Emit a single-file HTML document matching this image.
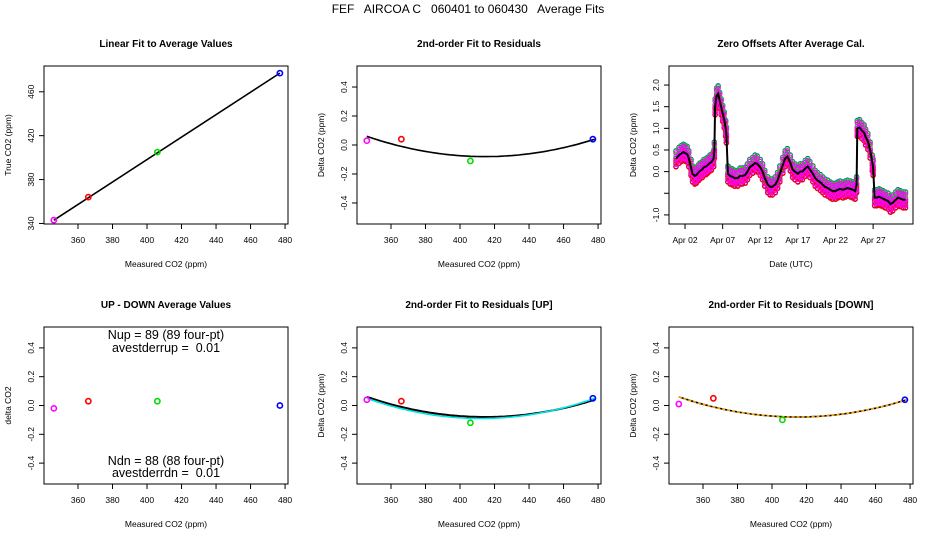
<!DOCTYPE html>
<html><head><meta charset="utf-8"><style>
body{margin:0;background:#fff}
svg{display:block;font-family:"Liberation Sans",sans-serif}
text{fill:#000;white-space:pre}
</style></head><body>
<svg id="c" width="936" height="540" viewBox="0 0 936 540" xmlns="http://www.w3.org/2000/svg">
<text x="468" y="13" text-anchor="middle" font-size="12" xml:space="preserve">FEF   AIRCOA C   060401 to 060430   Average Fits</text>
</svg>
<script>
// ---- data ----
const calMeasured = [346, 366, 406, 477];
const calTrue = [343, 364, 405, 477];
const calColors = ['#ff00ff', '#ff0000', '#00dd00', '#0000ff'];
const residuals = [0.03, 0.04, -0.11, 0.04];
const residualsUp = [0.04, 0.03, -0.12, 0.05];
const residualsDown = [0.01, 0.05, -0.10, 0.04];
const upDownDiff = [-0.02, 0.03, 0.03, 0.0];
const fitCoef = [0.06, -0.08, 0.04];      // fit value at 346, 415, 478
const fitCoefUp = [0.05, -0.09, 0.05];
const fitCoefDown = [0.06, -0.08, 0.04];
const co2Ticks = [360, 380, 400, 420, 440, 460, 480];
const trueTicks = [340, 380, 420, 460];
const residTicks = [-0.4, -0.2, 0.0, 0.2, 0.4];
const zeroTicks = [-1.0, -0.5, 0.0, 0.5, 1.0, 1.5, 2.0];
const zeroTickLabels = ['-1.0', '', '0.0', '0.5', '1.0', '1.5', '2.0'];
const dateTicks = [2, 7, 12, 17, 22, 27];
const dateTickLabels = ['Apr 02', 'Apr 07', 'Apr 12', 'Apr 17', 'Apr 22', 'Apr 27'];
const zeroDays = [0.8,1.2,1.5,1.8,2.0,2.3,2.5,2.8,3.0,3.3,3.5,3.8,4.0,4.3,4.5,4.8,5.0,5.3,5.5,5.8,5.9,6.0,6.2,6.4,6.6,6.8,7.0,7.2,7.4,7.5,7.7,8.0,8.3,8.6,9.0,9.3,9.6,10.0,10.3,10.6,11.0,11.3,11.6,12.0,12.3,12.6,13.0,13.3,13.6,14.0,14.3,14.6,15.0,15.3,15.6,16.0,16.3,16.6,17.0,17.3,17.6,18.0,18.3,18.6,19.0,19.3,19.6,20.0,20.3,20.6,21.0,21.3,21.6,22.0,22.3,22.6,23.0,23.3,23.6,24.0,24.3,24.6,24.8,24.9,25.2,25.5,25.8,26.0,26.3,26.6,26.9,27.0,27.2,27.5,27.8,28.0,28.3,28.6,29.0,29.3,29.6,30.0,30.3,30.6,31.0,31.3];
const zeroMean = [0.3,0.38,0.42,0.45,0.43,0.4,0.3,0.1,-0.05,-0.1,-0.08,-0.02,0.02,0.05,0.1,0.12,0.15,0.2,0.22,0.3,0.5,1.5,1.75,1.8,1.65,1.5,1.35,1.2,1.0,0.85,-0.05,-0.1,-0.12,-0.15,-0.15,-0.1,-0.1,-0.08,0.0,0.1,0.15,0.2,0.18,0.1,0.0,-0.15,-0.3,-0.35,-0.35,-0.3,-0.2,-0.05,0.15,0.3,0.35,0.2,0.05,0.0,-0.05,0.0,0.0,0.08,0.12,0.05,-0.05,-0.15,-0.2,-0.25,-0.3,-0.35,-0.38,-0.42,-0.45,-0.45,-0.42,-0.4,-0.42,-0.4,-0.38,-0.4,-0.42,-0.45,-0.3,1.0,1.02,0.95,0.9,0.8,0.7,0.5,0.2,0.1,-0.6,-0.6,-0.58,-0.6,-0.62,-0.65,-0.68,-0.75,-0.72,-0.65,-0.6,-0.62,-0.65,-0.65];
const seriesOffsets = [0.0, 0.05, -0.12, 0.0];   // blue, green, red, magenta
const seriesSpread = [0.18, 0.12, 0.07, 0.13];
const zeroColors = ['#0000ff', '#00dd00', '#ff0000', '#ff00ff'];

// ---- drawing ----
const svg = document.getElementById('c');
const NS = 'http://www.w3.org/2000/svg';
function el(tag, attrs, parent) {
  const e = document.createElementNS(NS, tag);
  for (const k in attrs) e.setAttribute(k, attrs[k]);
  (parent || svg).appendChild(e);
  return e;
}
function txt(x, y, s, size, parent, rot, anchor, bold) {
  const t = el('text', {x: x, y: y, 'font-size': size, 'text-anchor': anchor || 'middle'}, parent);
  if (rot) t.setAttribute('transform', 'rotate(-90 ' + x + ' ' + y + ')');
  if (bold) t.setAttribute('font-weight', 'bold');
  t.textContent = s;
  return t;
}
function scale(d0, d1, r0, r1) { return v => r0 + (v - d0) / (d1 - d0) * (r1 - r0); }

function panel(name, box, xd, yd, title, xlab, ylab, xt, xtl, yt, ytl) {
  const g = el('g', {});
  
  
  const [x0, y0, x1, y1] = box;
  const sx = scale(xd[0], xd[1], x0, x1), sy = scale(yd[0], yd[1], y1, y0);
  const frame = el('rect', {x: x0, y: y0, width: x1 - x0, height: y1 - y0, fill: 'none', stroke: '#000', 'stroke-width': 1}, g);
  
  
  const t = txt((x0 + x1) / 2, y0 - 19, title, 10, g, false, 'middle', true);
  
  
  const xl = txt((x0 + x1) / 2, y1 + 43, xlab, 8.5, g);
  
  
  const yl = txt(x0 - 33, (y0 + y1) / 2, ylab, 8.5, g, true);
  
  
  xt.forEach((v, i) => {
    const x = sx(v);
    el('line', {x1: x, x2: x, y1: y1, y2: y1 + 5, stroke: '#000'}, g);
    const l = txt(x, y1 + 19, xtl[i], 8.5, g);
    
    
  });
  yt.forEach((v, i) => {
    const y = sy(v);
    el('line', {x1: x0 - 5, x2: x0, y1: y, y2: y, stroke: '#000'}, g);
    const l = txt(x0 - 10, y, ytl[i], 8.5, g, true);
    
    
  });
  return {g, sx, sy};
}
function pt(p, x, y, c, name) {
  const e = el('circle', {cx: p.sx(x), cy: p.sy(y), r: 2.6, fill: 'none', stroke: c, 'stroke-width': 1.6}, p.g);
  
  
}
function quadCurve(p, coef, color, name, dash, w) {
  const xs = [346, 415, 478];
  const f = x => {
    let s = 0;
    for (let i = 0; i < 3; i++) {
      let l = 1;
      for (let j = 0; j < 3; j++) if (j !== i) l *= (x - xs[j]) / (xs[i] - xs[j]);
      s += coef[i] * l;
    }
    return s;
  };
  let d = '';
  for (let x = 346; x <= 478; x += 2) d += (d ? 'L' : 'M') + p.sx(x).toFixed(1) + ',' + p.sy(f(x)).toFixed(1);
  const e = el('path', {d: d, fill: 'none', stroke: color, 'stroke-width': w || 1.6}, p.g);
  if (dash) e.setAttribute('stroke-dasharray', dash);
  
  
}
const XD = [340.3, 481.7];
const co2Labels = co2Ticks.map(String);
const residLabels = residTicks.map(v => v.toFixed(1));

// Panel 1
const p1 = panel('linear-fit-panel', [44, 66, 288, 224], XD, [339.5, 483.5], 'Linear Fit to Average Values', 'Measured CO2 (ppm)', 'True CO2 (ppm)', co2Ticks, co2Labels, trueTicks, trueTicks.map(String));
{
  const l = el('line', {x1: p1.sx(calMeasured[0]), y1: p1.sy(calTrue[0]), x2: p1.sx(calMeasured[3]), y2: p1.sy(calTrue[3]), stroke: '#000', 'stroke-width': 1.6}, p1.g);
  
  
  calMeasured.forEach((m, i) => pt(p1, m, calTrue[i], calColors[i], 'calibration-point'));
}
// Panel 2
const RD = [-0.545, 0.545];
const p2 = panel('residual-fit-panel', [357, 66, 601, 224], XD, RD, '2nd-order Fit to Residuals', 'Measured CO2 (ppm)', 'Delta CO2 (ppm)', co2Ticks, co2Labels, residTicks, residLabels);
quadCurve(p2, fitCoef, '#000', 'residual-fit-curve');
calMeasured.forEach((m, i) => pt(p2, m, residuals[i], calColors[i], 'residual-point'));

// Panel 3
const p3 = panel('zero-offsets-panel', [669, 66, 913, 224], [-0.13, 32.3], [-1.21, 2.44], 'Zero Offsets After Average Cal.', 'Date (UTC)', 'Delta CO2 (ppm)', dateTicks, dateTickLabels, zeroTicks, zeroTickLabels);
zeroColors.forEach((c, k) => {
  const jit = [-1, 0, 1];
  zeroDays.forEach((d, i) => {
    jit.forEach(j => {
      const e = el('circle', {cx: p3.sx(d), cy: p3.sy(zeroMean[i] + seriesOffsets[k] + j * seriesSpread[k]), r: 2.2, fill: 'none', stroke: c, 'stroke-width': 1.1}, p3.g);
      
      
    });
  });
});
{
  const d = zeroDays.map((v, i) => (i ? 'L' : 'M') + p3.sx(v).toFixed(1) + ',' + p3.sy(zeroMean[i]).toFixed(1)).join('');
  const e = el('path', {d: d, fill: 'none', stroke: '#000', 'stroke-width': 2}, p3.g);
  
  
}

// Panel 4
const p4 = panel('up-down-panel', [44, 327, 288, 484], XD, RD, 'UP - DOWN Average Values', 'Measured CO2 (ppm)', 'delta CO2', co2Ticks, co2Labels, residTicks, residLabels);
calMeasured.forEach((m, i) => pt(p4, m, upDownDiff[i], calColors[i], 'up-down-point'));
[['Nup = 89 (89 four-pt)', 339], ['avestderrup =  0.01', 352], ['Ndn = 88 (88 four-pt)', 465], ['avestderrdn =  0.01', 477]].forEach(a => {
  const t = txt(166, a[1], a[0], 12.5, p4.g);
  
  
});

// Panel 5
const p5 = panel('residual-fit-up-panel', [357, 327, 601, 484], XD, RD, '2nd-order Fit to Residuals [UP]', 'Measured CO2 (ppm)', 'Delta CO2 (ppm)', co2Ticks, co2Labels, residTicks, residLabels);
quadCurve(p5, fitCoef, '#000', 'average-fit-curve', null, 2);
quadCurve(p5, fitCoefUp, '#00e5e5', 'up-fit-curve', null, 1.6);
calMeasured.forEach((m, i) => pt(p5, m, residualsUp[i], calColors[i], 'residual-up-point'));

// Panel 6
const p6 = panel('residual-fit-down-panel', [669, 327, 913, 484], XD, RD, '2nd-order Fit to Residuals [DOWN]', 'Measured CO2 (ppm)', 'Delta CO2 (ppm)', co2Ticks, co2Labels, residTicks, residLabels);
quadCurve(p6, fitCoef, '#000', 'average-fit-curve', null, 1.6);
quadCurve(p6, fitCoefDown, '#ffa500', 'down-fit-curve', '3,2', 1.6);
calMeasured.forEach((m, i) => pt(p6, m, residualsDown[i], calColors[i], 'residual-down-point'));
</script>
</body></html>
